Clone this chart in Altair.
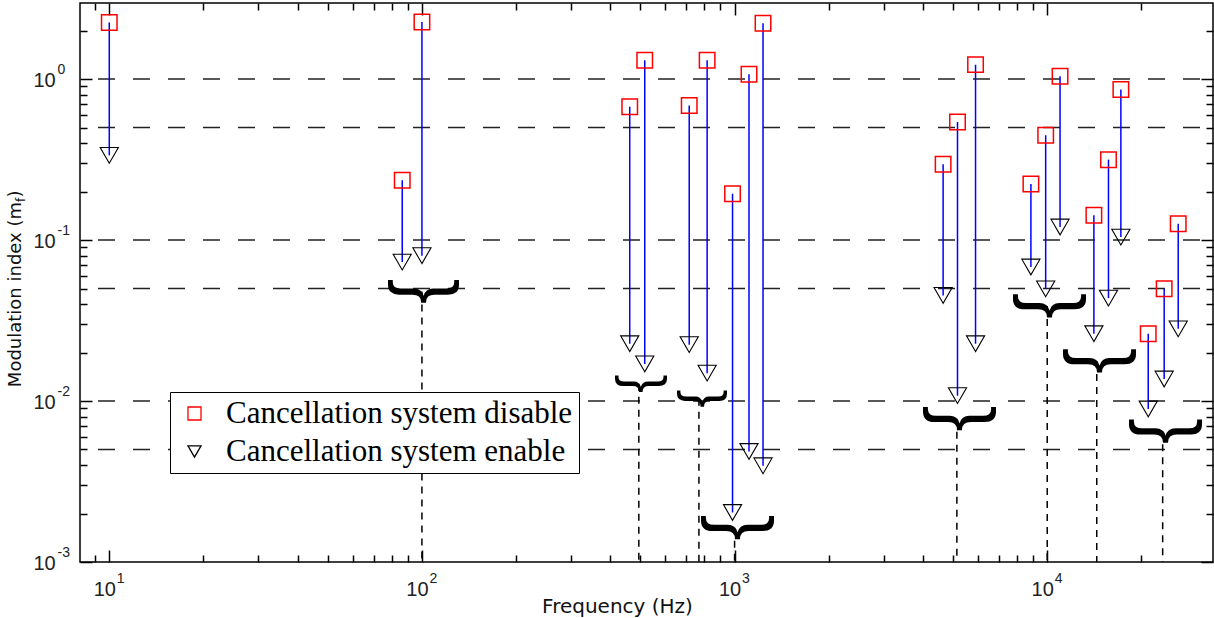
import altair as alt
import pandas as pd

# ---------------- data ----------------
freq = [10, 86.5, 100, 462, 516, 716, 817, 985, 1112, 1233,
        4645, 5164, 5898, 8867, 9886, 10990, 14100, 15700, 17200, 21040, 23660, 26240]
disable = [2.25, 0.235, 2.26, 0.673, 1.31, 0.686, 1.31, 0.194, 1.07, 2.22,
           0.296, 0.542, 1.23, 0.223, 0.448, 1.04, 0.1425, 0.316, 0.862, 0.0262, 0.0498, 0.1265]
enable = [0.336, 0.073, 0.080, 0.0227, 0.0170, 0.0224, 0.0149, 0.00203, 0.00486, 0.00396,
          0.0453, 0.0108, 0.0227, 0.068, 0.0498, 0.1205, 0.0262, 0.0436, 0.1044, 0.00893, 0.0137, 0.0281]

brace_freq = [100, 494, 769, 1000, 5140, 10000, 14400, 23400]
brace_level = [0.048, 0.0128, 0.01035, 0.00163, 0.00777, 0.039, 0.0177, 0.0065]
brace_lo = [77, 408, 637, 764, 3927, 7640, 11000, 17880]
brace_hi = [130, 598, 928, 1309, 6728, 13090, 18850, 30630]

grid_levels = [1, 0.5, 0.1, 0.05, 0.01, 0.005]

x_major = [10, 100, 1000, 10000]
x_minor = [9, 20, 30, 40, 50, 60, 70, 80, 90,
           200, 300, 400, 500, 600, 700, 800, 900,
           2000, 3000, 4000, 5000, 6000, 7000, 8000, 9000, 20000]
y_major = [0.001, 0.01, 0.1, 1]
y_minor = [0.002, 0.003, 0.004, 0.005, 0.006, 0.007, 0.008, 0.009,
           0.02, 0.03, 0.04, 0.05, 0.06, 0.07, 0.08, 0.09,
           0.2, 0.3, 0.4, 0.5, 0.6, 0.7, 0.8, 0.9, 2]

series = ["Cancellation system disable", "Cancellation system enable"]
x_title = "Frequency (Hz)"
y_title_main = "Modulation index (m"
y_title_sub = "f"
y_title_end = ")"

X_DOMAIN = [8.06, 33900]
Y_DOMAIN = [0.001, 2.97]

# ---------------- tables ----------------
pair_df = pd.DataFrame({"freq": freq, "disable": disable, "enable": enable})
long_df = pd.concat([
    pd.DataFrame({"freq": freq, "value": disable, "state": series[0]}),
    pd.DataFrame({"freq": freq, "value": enable, "state": series[1]}),
], ignore_index=True)
brace_df = pd.DataFrame({"freq": brace_freq, "level": brace_level, "lo": brace_lo, "hi": brace_hi})
grid_df = pd.DataFrame({"level": grid_levels})

xs = alt.Scale(type="log", domain=X_DOMAIN, nice=False)
ys = alt.Scale(type="log", domain=Y_DOMAIN, nice=False)

# ---------------- marks ----------------
grid = alt.Chart(grid_df).mark_rule(
    color="#222222", strokeWidth=1.5, strokeDash=[17, 18], strokeDashOffset=22
).encode(y=alt.Y("level:Q", scale=ys, axis=None))

vlines = alt.Chart(brace_df).mark_rule(
    color="black", strokeWidth=1.5, strokeDash=[7, 6]
).encode(
    x=alt.X("freq:Q", scale=xs, axis=None),
    y=alt.Y("level:Q", scale=ys, axis=None),
    y2=alt.datum(0.001),
)

braces = alt.Chart(brace_df).transform_calculate(
    fs="log(datum.hi / datum.lo) / LN10 * 333"
).mark_text(
    text="}", angle=90, font="Liberation Sans", fontWeight="normal", color="black",
    align="center", baseline="middle", dy=-5
).encode(
    x=alt.X("freq:Q", scale=xs, axis=None),
    y=alt.Y("level:Q", scale=ys, axis=None),
    size=alt.Size("fs:Q", scale=None, legend=None),
)

rules = alt.Chart(pair_df).mark_rule(color="#0000ff", strokeWidth=1.5).encode(
    x=alt.X("freq:Q", scale=xs, axis=None),
    y=alt.Y("disable:Q", scale=ys, axis=None),
    y2="enable:Q",
)

legend = alt.Legend(
    title=None, orient="none", legendX=90, legendY=389, direction="vertical",
    labelFont="Liberation Serif", labelFontSize=31, labelColor="black", labelLimit=800,
    labelOffset=16, symbolSize=170, symbolStrokeWidth=1.3, padding=6, symbolOffset=3,
    rowPadding=6, strokeColor="black", fillColor="white",
)

points = alt.Chart(long_df).mark_point(filled=False, opacity=1).encode(
    x=alt.X("freq:Q", scale=xs, axis=None),
    y=alt.Y("value:Q", scale=ys, axis=None),
    shape=alt.Shape("state:N", scale=alt.Scale(domain=series, range=["square", "triangle-down"]), legend=legend),
    stroke=alt.Stroke("state:N", scale=alt.Scale(domain=series, range=["#ff0000", "#000000"]), legend=legend),
    size=alt.condition(alt.datum.state == series[0], alt.value(240), alt.value(330)),
    strokeWidth=alt.condition(alt.datum.state == series[0], alt.value(1.5), alt.value(1.1)),
)

# ---------------- axes (inward ticks via negative offset) ----------------
common = dict(domain=False, grid=False, tickColor="black", tickWidth=1.5)


def axis_layer(xaxis, yaxis):
    return alt.Chart(pair_df).mark_point(opacity=0).encode(
        x=alt.X("freq:Q", scale=xs, axis=xaxis),
        y=alt.Y("disable:Q", scale=ys, axis=yaxis),
    )


major = axis_layer(
    alt.Axis(orient="bottom", values=x_major, offset=-12, tickSize=12, labelExpr="'10'",
             labelFont="Liberation Sans", labelFontSize=20, labelColor="#222222",
             labelAlign="center", labelBaseline="alphabetic", labelPadding=33, labelOffset=-5,
             labelFlush=False, labelOverlap=False,
             title=x_title, titleX=537, titleY=62, titleAlign="center", titleAnchor="start",
             titleBaseline="alphabetic", titleFont="DejaVu Sans", titleFontSize=20,
             titleFontWeight="normal", titleColor="#111111", **common),
    alt.Axis(orient="left", values=y_major, offset=-12, tickSize=12, labelExpr="'10'",
             labelFont="Liberation Sans", labelFontSize=20, labelColor="#222222",
             labelAlign="left", labelBaseline="alphabetic", labelPadding=47, labelOffset=7,
             labelFlush=False, labelOverlap=False, title=None, **common),
)

expo = axis_layer(
    alt.Axis(orient="bottom", values=x_major, ticks=False,
             labelExpr="'' + round(log(datum.value) / LN10)",
             labelFont="Liberation Sans", labelFontSize=14, labelColor="#222222",
             labelAlign="left", labelBaseline="alphabetic", labelPadding=20, labelOffset=7,
             labelFlush=False, labelOverlap=False, title=None, **common),
    alt.Axis(orient="left", values=y_major, ticks=False,
             labelExpr="'' + round(log(datum.value) / LN10)",
             labelFont="Liberation Sans", labelFontSize=14, labelColor="#222222",
             labelAlign="left", labelBaseline="alphabetic", labelPadding=23, labelOffset=-6,
             labelFlush=False, labelOverlap=False, title=None, **common),
)

minor = axis_layer(
    alt.Axis(orient="bottom", values=x_minor, offset=-7, tickSize=7, labels=False, title=None, **common),
    alt.Axis(orient="left", values=y_minor, offset=-7, tickSize=7, labels=False, title=None, **common),
)

major_tr = axis_layer(
    alt.Axis(orient="top", values=x_major, offset=-12, tickSize=12, labels=False, title=None, **common),
    alt.Axis(orient="right", values=y_major, offset=-12, tickSize=12, labels=False, title=None, **common),
)

minor_tr = axis_layer(
    alt.Axis(orient="top", values=x_minor, offset=-7, tickSize=7, labels=False, title=None, **common),
    alt.Axis(orient="right", values=y_minor, offset=-7, tickSize=7, labels=False, title=None, **common),
)

# ---------------- y title with subscript ----------------
yt_main = alt.Chart(pd.DataFrame({"t": [y_title_main]})).mark_text(
    angle=270, align="right", baseline="alphabetic", font="DejaVu Sans", fontSize=18, color="#111111"
).encode(text="t:N", x=alt.value(-59.5), y=alt.value(199))
yt_sub = alt.Chart(pd.DataFrame({"t": [y_title_sub]})).mark_text(
    angle=270, align="left", baseline="alphabetic", font="DejaVu Sans", fontSize=12, color="#111111"
).encode(text="t:N", x=alt.value(-55), y=alt.value(199))
yt_end = alt.Chart(pd.DataFrame({"t": [y_title_end]})).mark_text(
    angle=270, align="left", baseline="alphabetic", font="DejaVu Sans", fontSize=18, color="#111111"
).encode(text="t:N", x=alt.value(-59.5), y=alt.value(194.5))

chart = alt.layer(
    grid, vlines, braces, rules, points,
    major, expo, minor, major_tr, minor_tr,
    yt_main, yt_sub, yt_end,
).resolve_axis(
    x="independent", y="independent"
).properties(
    width=1133, height=559,
    autosize=alt.AutoSizeParams(type="none"),
    padding={"left": 80, "top": 3, "right": 1, "bottom": 56},
    background="white",
).configure_view(stroke="black", strokeWidth=1.5)

chart.save("out.html", embed_options={"renderer": "svg", "actions": False})
